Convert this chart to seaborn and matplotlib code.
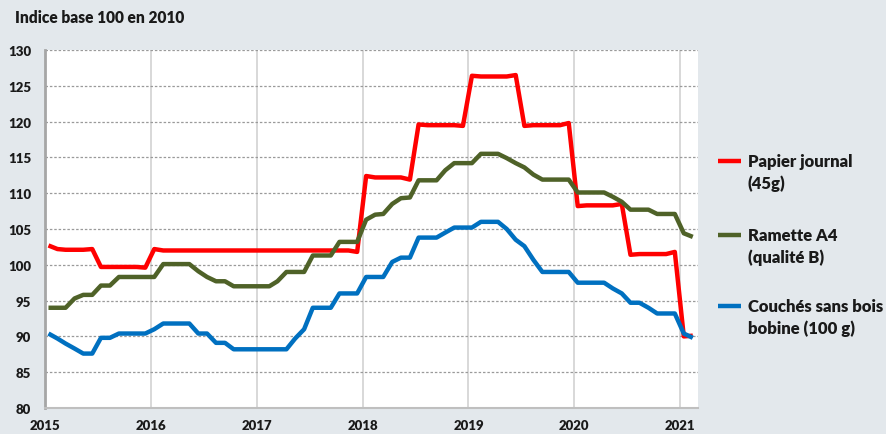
import matplotlib
matplotlib.use("Agg")
import matplotlib.pyplot as plt
import matplotlib.dates as mdates
from matplotlib.lines import Line2D
import pandas as pd
import seaborn as sns

# monthly index values, Jan 2015 -> Feb 2021 (base 100 = 2010)
months = pd.date_range("2015-01-01", periods=74, freq="MS") + pd.Timedelta(days=12)

papier_journal = [
    102.7, 102.2, 102.1, 102.1, 102.1, 102.2, 99.7, 99.7, 99.7, 99.7, 99.7, 99.6,
    102.2, 102.0, 102.0, 102.0, 102.0, 102.0, 102.0, 102.0, 102.0, 102.0, 102.0, 102.0,
    102.0, 102.0, 102.0, 102.0, 102.0, 102.0, 102.0, 102.0, 102.0, 102.0, 102.0, 101.8,
    112.4, 112.2, 112.2, 112.2, 112.2, 111.9, 119.6, 119.5, 119.5, 119.5, 119.5, 119.4,
    126.4, 126.3, 126.3, 126.3, 126.3, 126.5, 119.4, 119.5, 119.5, 119.5, 119.5, 119.8,
    108.2, 108.3, 108.3, 108.3, 108.3, 108.5, 101.4, 101.5, 101.5, 101.5, 101.5, 101.8,
    90.0, 90.1,
]
ramette_a4 = [
    94.0, 94.0, 94.0, 95.3, 95.8, 95.8, 97.1, 97.1, 98.3, 98.3, 98.3, 98.3,
    98.3, 100.1, 100.1, 100.1, 100.1, 99.1, 98.3, 97.7, 97.7, 97.0, 97.0, 97.0,
    97.0, 97.0, 97.7, 99.0, 99.0, 99.0, 101.3, 101.3, 101.3, 103.2, 103.2, 103.2,
    106.3, 107.0, 107.1, 108.5, 109.3, 109.4, 111.8, 111.8, 111.8, 113.2, 114.2, 114.2,
    114.2, 115.5, 115.5, 115.5, 114.9, 114.2, 113.6, 112.6, 111.9, 111.9, 111.9, 111.9,
    110.1, 110.1, 110.1, 110.1, 109.5, 108.8, 107.7, 107.7, 107.7, 107.1, 107.1, 107.1,
    104.4, 103.9,
]
couches_sans_bois = [
    90.4, 89.7, 89.0, 88.3, 87.6, 87.6, 89.8, 89.8, 90.4, 90.4, 90.4, 90.4,
    91.0, 91.8, 91.8, 91.8, 91.8, 90.4, 90.4, 89.1, 89.1, 88.2, 88.2, 88.2,
    88.2, 88.2, 88.2, 88.2, 89.7, 91.0, 94.0, 94.0, 94.0, 96.0, 96.0, 96.0,
    98.3, 98.3, 98.3, 100.4, 101.0, 101.0, 103.8, 103.8, 103.8, 104.5, 105.2, 105.2,
    105.2, 106.0, 106.0, 106.0, 105.0, 103.5, 102.6, 100.7, 99.0, 99.0, 99.0, 99.0,
    97.5, 97.5, 97.5, 97.5, 96.7, 96.0, 94.7, 94.7, 94.0, 93.2, 93.2, 93.2,
    90.4, 89.8,
]

series_names = ["Papier journal", "Ramette A4", "Couchés sans bois"]
legend_lines = [("Papier journal", "(45g)"),
                ("Ramette A4", "(qualité B)"),
                ("Couchés sans bois", "bobine (100 g)")]
colors = ["#FF0000", "#4F6228", "#0070C0"]
y_ticks = [80, 85, 90, 95, 100, 105, 110, 115, 120, 125, 130]

df = pd.DataFrame({
    "date": months,
    series_names[0]: papier_journal,
    series_names[1]: ramette_a4,
    series_names[2]: couches_sans_bois,
}).melt(id_vars="date", var_name="serie", value_name="indice")

sns.set_theme(style="white")
plt.rcParams["font.family"] = ["Lato", "DejaVu Sans"]
plt.rcParams["font.weight"] = "bold"

bg = "#e3e8ec"
txt = "#1a1a1a"
W, H = 886, 435
fig = plt.figure(figsize=(W / 100, H / 100), dpi=100, facecolor=bg)
ax = fig.add_axes([45 / W, 1 - 409 / H, (698 - 45) / W, (409 - 51) / H])
ax.set_facecolor("white")

sns.lineplot(data=df, x="date", y="indice", hue="serie", hue_order=series_names,
             palette=colors, linewidth=3.2, ax=ax, legend=False)
for line in ax.lines:
    line.set_solid_capstyle("butt")
    line.set_solid_joinstyle("round")

ax.set_ylim(80, 130)
ax.set_yticks(y_ticks)
ax.set_xlim(pd.Timestamp("2015-01-01"), pd.Timestamp("2021-03-03"))
ax.xaxis.set_major_locator(mdates.YearLocator())
ax.xaxis.set_major_formatter(mdates.DateFormatter("%Y"))
ax.set_xlabel("")
ax.set_ylabel("")

ax.set_axisbelow(True)
ax.yaxis.grid(True, linestyle=(0, (2, 1.5)), color="#9a9a9a", linewidth=0.9)
ax.xaxis.grid(True, linestyle="-", color="#d6d6d6", linewidth=1.3)

for side in ["top", "right"]:
    ax.spines[side].set_visible(False)
ax.spines["left"].set_color("#a6a6a6")
ax.spines["left"].set_linewidth(2)
ax.spines["bottom"].set_color("#bfbfbf")
ax.spines["bottom"].set_linewidth(1.5)

ax.tick_params(axis="both", direction="out", length=4, width=1, color="#a6a6a6",
               labelsize=9.5, labelcolor=txt)
ax.tick_params(axis="y", pad=6)
ax.tick_params(axis="x", pad=4)
for lab in ax.get_xticklabels() + ax.get_yticklabels():
    lab.set_fontweight("heavy")

fig.text(15 / W, 1 - 18 / H, "Indice base 100 en 2010", fontsize=11.2,
         fontweight="heavy", color=txt, va="center", ha="left")

# legend on the right, handle aligned with the first line of each label
legend_y = [162, 236, 307]
for (line1, line2), col, y in zip(legend_lines, colors, legend_y):
    fig.add_artist(Line2D([718 / W, 741 / W], [1 - y / H, 1 - y / H],
                          color=col, linewidth=3.2, solid_capstyle="butt"))
    fig.text(748 / W, 1 - y / H, line1, fontsize=12, fontweight="heavy",
             color=txt, va="center", ha="left")
    fig.text(748 / W, 1 - (y + 22) / H, line2, fontsize=12, fontweight="heavy",
             color=txt, va="center", ha="left")

fig.savefig("out.png", dpi=100, facecolor=bg)
